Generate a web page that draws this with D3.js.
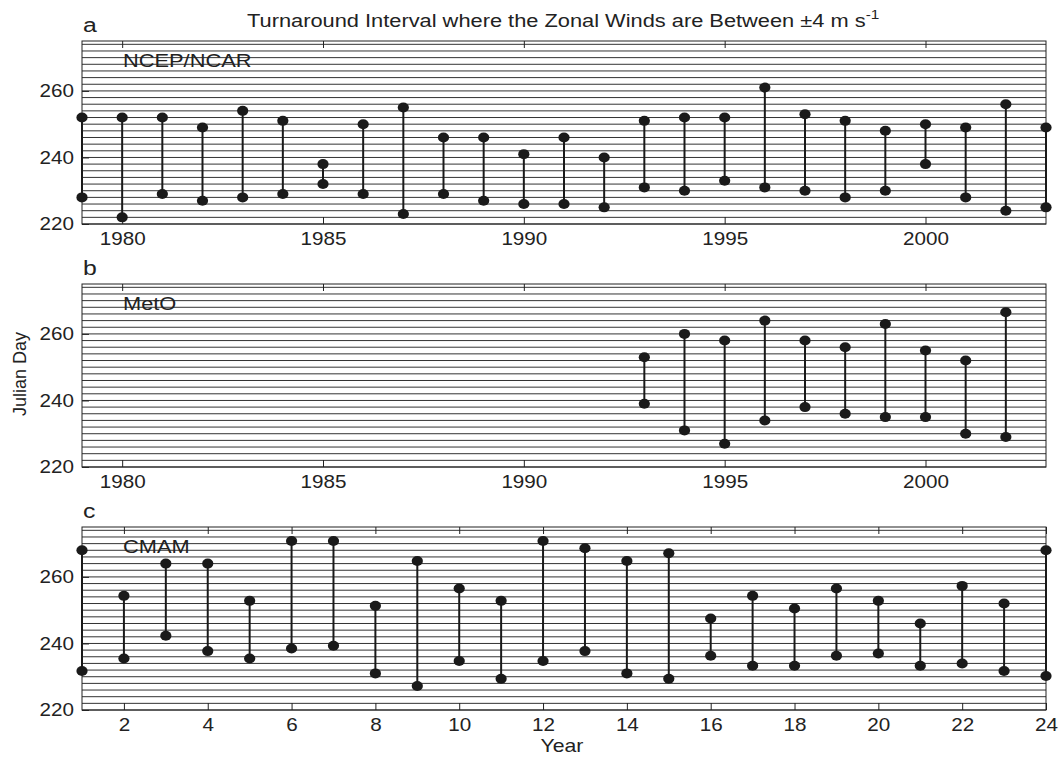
<!DOCTYPE html>
<html><head><meta charset="utf-8">
<script src="https://cdn.jsdelivr.net/npm/d3@7"></script>
<style>
body{margin:0;background:#fff;}
svg text{font-family:"Liberation Sans",Arial,Helvetica,sans-serif;fill:#222;}
</style></head>
<body><svg id="chart" width="1060" height="757"></svg>
<script>
// ---- data ----
const ncepYears = [1979,1980,1981,1982,1983,1984,1985,1986,1987,1988,1989,1990,1991,1992,1993,1994,1995,1996,1997,1998,1999,2000,2001,2002,2003];
const ncepTop    = [252,252,252,249,254,251,238,250,255,246,246,241,246,240,251,252,252,261,253,251,248,250,249,256,249];
const ncepBottom = [228,222,229,227,228,229,232,229,223,229,227,226,226,225,231,230,233,231,230,228,230,238,228,224,225];

const metoYears  = [1993,1994,1995,1996,1997,1998,1999,2000,2001,2002];
const metoTop    = [253,260,258,264,258,256,263,255,252,266.5];
const metoBottom = [239,231,227,234,238,236,235,235,230,229];

const cmamYears  = [1,2,3,4,5,6,7,8,9,10,11,12,13,14,15,16,17,18,19,20,21,22,23,24];
const cmamTop    = [268,254.3,264,264,252.8,270.8,270.8,251.3,264.8,256.5,252.8,270.8,268.6,264.8,267.1,247.5,254.3,250.5,256.5,252.8,246,257.3,252,268];
const cmamBottom = [231.7,235.5,242.3,237.7,235.5,238.5,239.3,231,227.2,234.7,229.4,234.7,237.7,231,229.4,236.3,233.3,233.3,236.3,237,233.3,234,231.7,230.2];

const yearTicks  = [1980,1985,1990,1995,2000];
const cmamTicks  = [2,4,6,8,10,12,14,16,18,20,22,24];
const yTicks     = [220,240,260];
const gridValues = [220,222,224,226,228,230,232,234,236,238,240,242,244,246,248,250,252,254,256,258,260,262,264,266,268,270,272,274];

const titleText = "Turnaround Interval where the Zonal Winds are Between \u00B14 m s";
const panelLetters = ["a","b","c"];
const panelNames = ["NCEP/NCAR","MetO","CMAM"];

// ---- layout ----
const SX = 1.18;
const svg = d3.select("#chart");
const left = 82, right = 1046, ph = 183;
const tops = [41, 284, 527];

const panels = [
  {x: ncepYears, top: ncepTop, bot: ncepBottom, dom: [1979,2003], ticks: yearTicks},
  {x: metoYears, top: metoTop, bot: metoBottom, dom: [1979,2003], ticks: yearTicks},
  {x: cmamYears, top: cmamTop, bot: cmamBottom, dom: [1,24], ticks: cmamTicks}
];

function stext(g, x, y, str, size, anchor){
  return g.append("text")
    .attr("transform", `translate(${x},${y}) scale(${SX},1)`)
    .attr("text-anchor", anchor || "start")
    .style("font-size", size + "px")
    .text(str);
}

panels.forEach((p, i) => {
  const t = tops[i];
  const g = svg.append("g");
  const x = d3.scaleLinear().domain(p.dom).range([left, right]);
  const y = d3.scaleLinear().domain([220, 275]).range([t + ph, t]);

  // grid lines
  g.append("g").selectAll("line").data(gridValues).join("line")
    .attr("x1", left).attr("x2", right)
    .attr("y1", d => y(d)).attr("y2", d => y(d))
    .attr("stroke", "#333").attr("stroke-width", 1);

  // axes
  const ax = g.append("g").attr("transform", `translate(0,${t + ph})`)
    .call(d3.axisBottom(x).tickValues(p.ticks).tickFormat(d3.format("d")).tickSizeInner(-7).tickSizeOuter(0).tickPadding(9));
  const axT = g.append("g").attr("transform", `translate(0,${t})`)
    .call(d3.axisTop(x).tickValues(p.ticks).tickFormat("").tickSizeInner(-7).tickSizeOuter(0));
  const ay = g.append("g").attr("transform", `translate(${left},0)`)
    .call(d3.axisLeft(y).tickValues(yTicks).tickFormat(d3.format("d")).tickSizeInner(-7).tickSizeOuter(0).tickPadding(8));
  [ax, axT, ay].forEach(a => {
    a.select(".domain").remove();
    a.selectAll(".tick line").attr("stroke", "#222");
    a.selectAll("text").style("font-size", "17.5px").attr("font-family", null).attr("fill", "#222");
  });
  ax.selectAll(".tick text").attr("transform", `scale(${SX},1)`);
  ay.selectAll(".tick text").attr("x", -8 / SX).attr("transform", `scale(${SX},1)`);

  // frame
  g.append("rect").attr("x", left).attr("y", t).attr("width", right - left).attr("height", ph)
    .attr("fill", "none").attr("stroke", "#222").attr("stroke-width", 1);

  // stems and markers
  const idx = d3.range(p.x.length);
  g.append("g").selectAll("line").data(idx).join("line")
    .attr("x1", k => x(p.x[k])).attr("x2", k => x(p.x[k]))
    .attr("y1", k => y(p.top[k])).attr("y2", k => y(p.bot[k]))
    .attr("stroke", "#1a1a1a").attr("stroke-width", 2);
  const pts = idx.flatMap(k => [[p.x[k], p.top[k]], [p.x[k], p.bot[k]]]);
  g.append("g").selectAll("ellipse").data(pts).join("ellipse")
    .attr("cx", d => x(d[0])).attr("cy", d => y(d[1]))
    .attr("rx", 5.6).attr("ry", 5).attr("fill", "#1a1a1a");

  // labels
  stext(svg, 83, t - 9, panelLetters[i], 21);
  stext(svg, 123, t + 25.5, panelNames[i], 18.5);
});

// title
const title = svg.append("text")
  .attr("transform", `translate(247,27) scale(${SX},1)`)
  .style("font-size", "18.5px");
title.append("tspan").text(titleText);
title.append("tspan").attr("dy", -8).style("font-size", "13px").text("-1");

// axis titles
svg.append("text").attr("transform", "translate(26,374) rotate(-90)")
  .attr("text-anchor", "middle").style("font-size", "18px").text("Julian Day");
stext(svg, 562, 752, "Year", 18, "middle");
</script></body></html>
